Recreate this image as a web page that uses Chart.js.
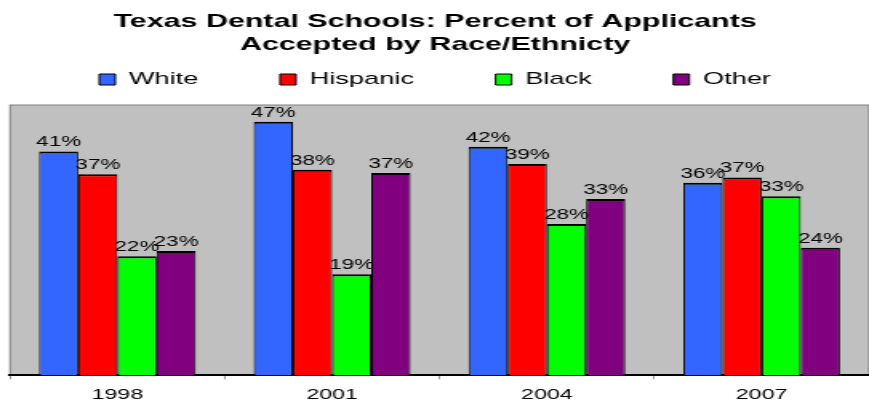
<!DOCTYPE html>
<html>
<head>
<meta charset="utf-8">
<script src="https://cdn.jsdelivr.net/npm/chart.js@4"></script>
<style>
  html, body { margin: 0; padding: 0; background: #fff; overflow: hidden; }
  #chart { display: block; }
</style>
</head>
<body>
<canvas id="chart" width="543" height="404" style="width:869px;height:404px"></canvas>
<script>
// datos (porcentaje de aceptados)
const years = ["1998", "2001", "2004", "2007"];
const white = [41.4, 46.9, 42.3, 35.6];
const hispanic = [37.2, 38.0, 39.1, 36.6];
const black = [22.0, 18.7, 28.0, 33.1];
const other = [23.0, 37.4, 32.6, 23.6];

Chart.defaults.font.family = "'Liberation Sans', Arial, sans-serif";
Chart.defaults.color = "#000";

// fondo gris del area de trazado
const plotBackground = {
  id: "plotBackground",
  beforeDraw(chart) {
    const { ctx, chartArea } = chart;
    ctx.save();
    ctx.fillStyle = "#C0C0C0";
    ctx.fillRect(chartArea.left, chartArea.top, chartArea.right - chartArea.left, chartArea.bottom - chartArea.top);
    ctx.strokeStyle = "#808080";
    ctx.lineWidth = 1;
    ctx.strokeRect(chartArea.left, chartArea.top, chartArea.right - chartArea.left, chartArea.bottom - chartArea.top);
    ctx.restore();
  }
};

// etiquetas de valor encima de cada barra
const valueLabels = {
  id: "valueLabels",
  afterDatasetsDraw(chart) {
    const { ctx } = chart;
    ctx.save();
    ctx.font = "14px 'Liberation Sans', Arial, sans-serif";
    ctx.fillStyle = "#000";
    ctx.textAlign = "center";
    ctx.textBaseline = "alphabetic";
    chart.data.datasets.forEach((ds, i) => {
      chart.getDatasetMeta(i).data.forEach((bar, j) => {
        ctx.fillText(Math.round(ds.data[j]) + "%", bar.x, bar.y - 5);
      });
    });
    ctx.restore();
  }
};

// un poco de espacio debajo de la leyenda
const legendSpacer = {
  id: "legendSpacer",
  beforeInit(chart) {
    const fit = chart.legend.fit;
    chart.legend.fit = function () {
      fit.call(this);
      this.height += 7;
    };
  }
};

const border = { top: 2, left: 1, right: 1, bottom: 0 };

new Chart(document.getElementById("chart"), {
  type: "bar",
  data: {
    labels: years,
    datasets: [
      { label: "White", data: white, backgroundColor: "#3366FF", borderColor: "#000", borderWidth: border },
      { label: "Hispanic", data: hispanic, backgroundColor: "#FF0000", borderColor: "#000", borderWidth: border },
      { label: "Black", data: black, backgroundColor: "#00FF00", borderColor: "#000", borderWidth: border },
      { label: "Other", data: other, backgroundColor: "#800080", borderColor: "#000", borderWidth: border }
    ]
  },
  options: {
    responsive: false,
    devicePixelRatio: 1,
    animation: false,
    datasets: {
      bar: { categoryPercentage: 0.73, barPercentage: 1 }
    },
    layout: {
      padding: { left: -5, right: -5.75, top: 0, bottom: -6.7 }
    },
    plugins: {
      title: {
        display: true,
        text: ["Texas Dental Schools: Percent of Applicants", "Accepted by Race/Ethnicty"],
        color: "#000",
        font: { size: 19, weight: "bold", lineHeight: 1.175 },
        padding: { top: 10.85, bottom: -35.5 }
      },
      legend: {
        position: "top",
        labels: {
          color: "#000",
          font: { size: 17 },
          boxWidth: 10,
          boxHeight: 11,
          padding: 51
        }
      },
      tooltip: { enabled: false }
    },
    scales: {
      x: {
        grid: {
          display: true,
          drawOnChartArea: false,
          drawTicks: true,
          tickLength: 4,
          color: "#808080",
          lineWidth: 0.8,
          offset: true
        },
        border: { display: true, color: "#000", width: 2 },
        ticks: { color: "#000", font: { size: 14.5 }, padding: 7 }
      },
      y: {
        display: true,
        min: 0,
        max: 50,
        grid: { display: false },
        border: { display: false },
        ticks: { display: false },
        afterFit(scale) {
          scale.width = 11.25;
        }
      }
    }
  },
  plugins: [plotBackground, valueLabels, legendSpacer]
});
</script>
</body>
</html>
